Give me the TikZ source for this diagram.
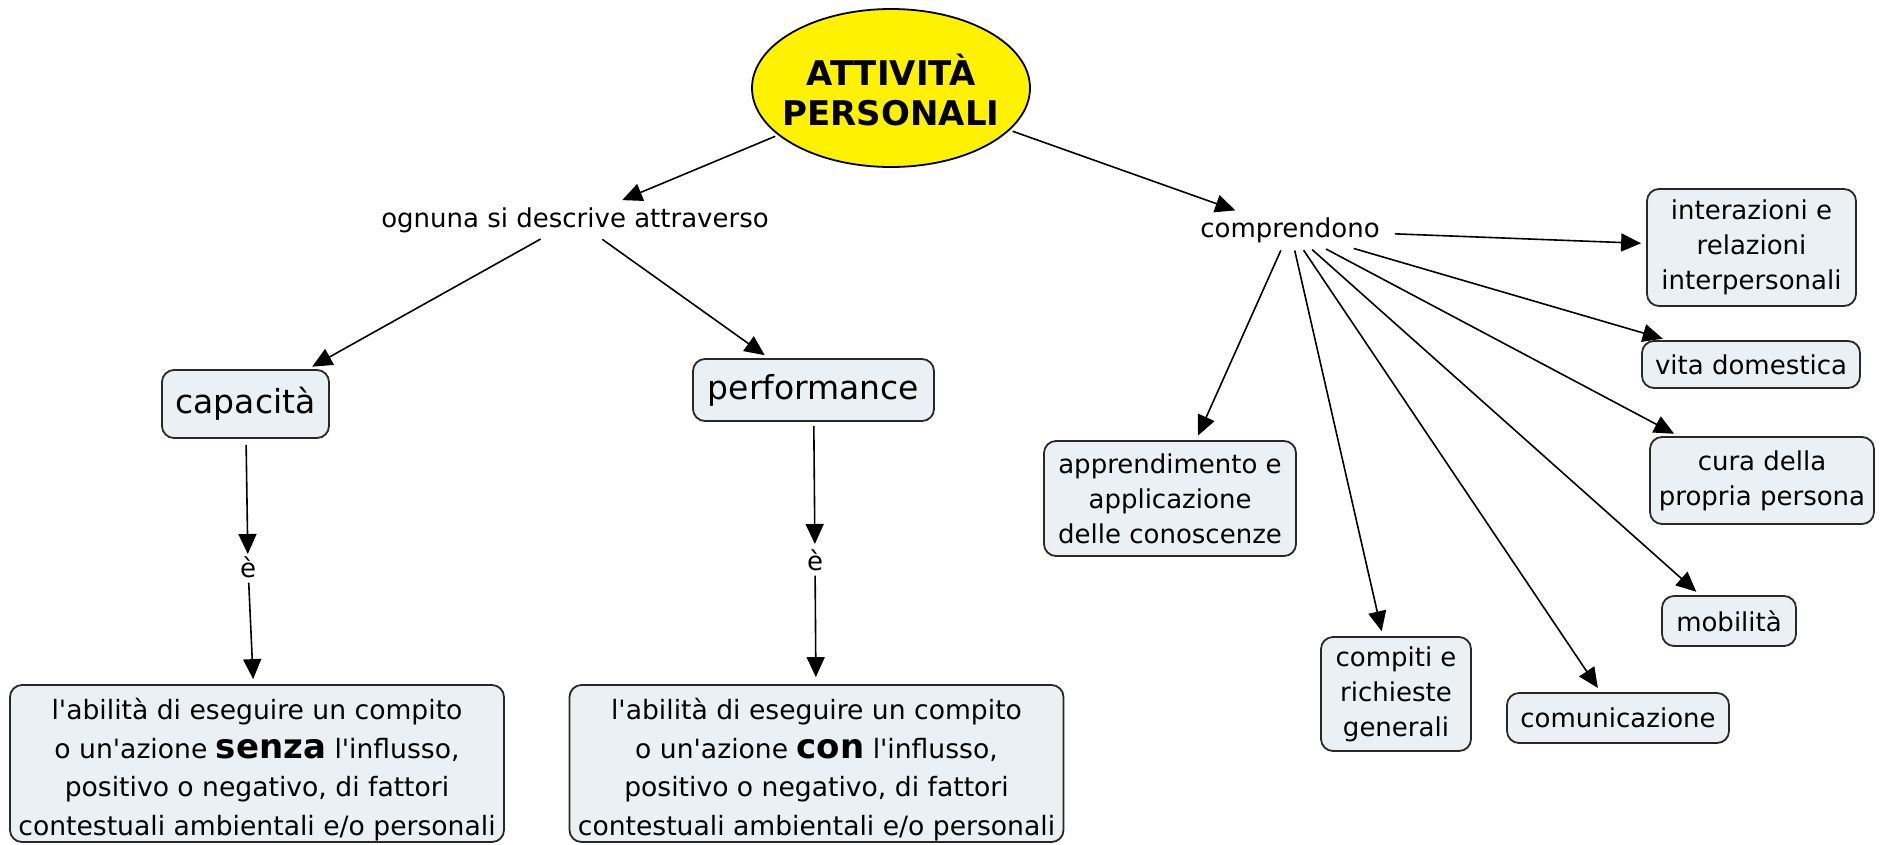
\documentclass[tikz,border=0pt]{standalone}
\usepackage{fontspec}
\setmainfont{DejaVu Sans}[Ligatures=TeXOff]
\usetikzlibrary{arrows.meta,shapes.geometric}
\definecolor{boxfill}{RGB}{234,240,243}
\definecolor{boxline}{RGB}{40,40,40}
\newcommand{\toppad}{\rule{0pt}{34pt}}
\begin{document}
\begin{tikzpicture}[x=1pt,y=-1pt,
  concept/.style={draw=boxline, line width=1.8pt, fill=boxfill, rounded corners=12pt,
                  inner sep=0pt, align=center},
  bigfont/.style={font=\fontsize{33}{38}\selectfont},
  smallfont/.style={font=\fontsize{26}{35}\selectfont},
  longfont/.style={font=\fontsize{26.6}{38.5}\selectfont},
  linkfont/.style={font=\fontsize{26}{30}\selectfont},
  linkphrase/.style={linkfont, inner xsep=12pt, inner ysep=5pt, anchor=base},
  conn/.style={-{Triangle[length=20pt,width=18pt]}, line width=1.6pt,
               shorten >=5pt, shorten <=3pt},
]
\useasboundingbox (0,0) rectangle (1881,844);

% root concept
\node[ellipse, draw=black, line width=1.8pt, fill=yellow,
      minimum width=278pt, minimum height=158pt, inner sep=0pt] (root) at (891,88) {};
\node[font=\bfseries\fontsize{34}{40}\selectfont, align=center] (roottext) at (891,90)
  {ATTIVITÀ\\PERSONALI};

% linking phrases
\node[linkphrase] (ognuna) at (575,227) {ognuna si descrive attraverso};
\node[linkphrase] (compr) at (1290,237) {comprendono};
\node[linkfont, inner sep=0pt, anchor=base] (e1) at (248,577) {è};
\node[linkfont, inner sep=0pt, anchor=base] (e2) at (815,570) {è};

% left branch
\node[concept, bigfont, minimum width=167pt, minimum height=68pt] (cap) at (245.5,404) {capacità};
\node[concept, bigfont, minimum width=241pt, minimum height=62pt] (perf) at (813.5,390) {performance};

\node[concept, longfont, minimum width=494pt, minimum height=157pt] (capdef) at (257,763.5)
  {\toppad l'abilità di eseguire un compito\\
   o un'azione {\bfseries\fontsize{34}{38.5}\selectfont senza} l'influsso,\\
   positivo o negativo, di fattori\\
   contestuali ambientali e/o personali};
\node[concept, longfont, minimum width=494pt, minimum height=157pt] (perfdef) at (816.5,763.5)
  {\toppad l'abilità di eseguire un compito\\
   o un'azione {\bfseries\fontsize{34}{38.5}\selectfont con} l'influsso,\\
   positivo o negativo, di fattori\\
   contestuali ambientali e/o personali};

% right branch
\node[concept, smallfont, minimum width=209pt, minimum height=117pt] (inter) at (1751.5,247.5)
  {interazioni e\\relazioni\\interpersonali};
\node[concept, smallfont, minimum width=218pt, minimum height=47pt] (vita) at (1751,364.5)
  {vita domestica};
\node[concept, smallfont, minimum width=224pt, minimum height=87pt] (cura) at (1762,480.5)
  {cura della\\propria persona};
\node[concept, smallfont, minimum width=134pt, minimum height=50pt] (mob) at (1729,621)
  {mobilità};
\node[concept, smallfont, minimum width=222pt, minimum height=50pt] (comu) at (1618,718)
  {comunicazione};
\node[concept, smallfont, minimum width=150pt, minimum height=114pt] (compiti) at (1396,694)
  {compiti e\\richieste\\generali};
\node[concept, smallfont, minimum width=252pt, minimum height=115pt] (appr) at (1170,498.5)
  {apprendimento e\\applicazione\\delle conoscenze};

% connectors
\draw[conn] (root) -- (ognuna);
\draw[conn] (root) -- (compr);
\draw[conn] (ognuna) -- (cap);
\draw[conn] (ognuna) -- (perf);
\draw[conn, shorten <=6pt, shorten >=2pt] (cap) -- (e1);
\draw[conn, shorten <=5pt] (e1) -- (capdef);
\draw[conn, shorten <=4pt] (perf) -- (e2);
\draw[conn, shorten <=5pt, shorten >=7pt] (e2) -- (perfdef);
\foreach \t in {appr,compiti,comu,mob,cura,vita,inter}
  \draw[conn] (compr) -- (\t);
\end{tikzpicture}
\end{document}
